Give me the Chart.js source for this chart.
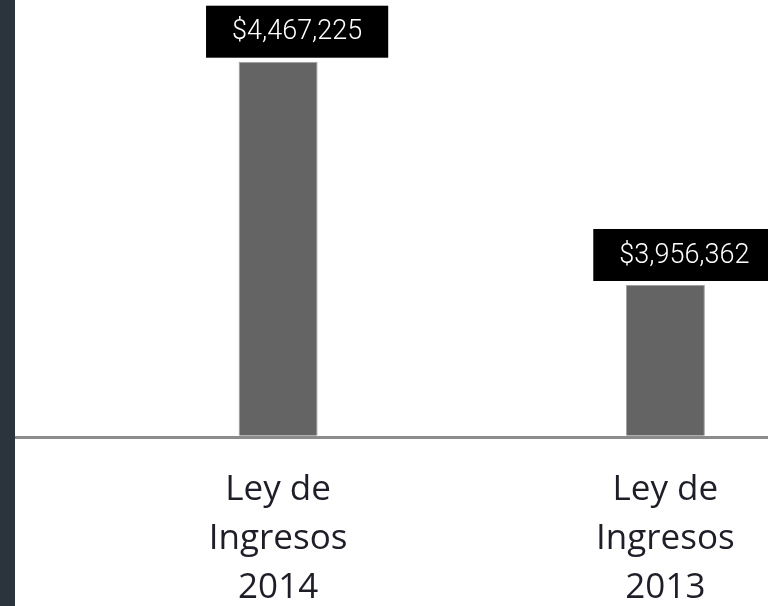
<!DOCTYPE html>
<html>
<head>
<meta charset="utf-8">
<script src="https://cdn.jsdelivr.net/npm/chart.js@4"></script>
<style>
  html, body { margin: 0; padding: 0; background: #fff; overflow: hidden; }
  body { width: 768px; height: 606px; position: relative; }
  #franja { position: absolute; left: 0; top: 0; width: 15px; height: 606px; background: #2b333c; z-index: 2; }
  #caja { position: absolute; left: 15px; top: 0; width: 844px; height: 606px; }
</style>
</head>
<body>
<div id="franja"></div>
<div id="caja"><canvas id="grafica"></canvas></div>
<script>
// Datos de la gráfica
const categorias = [['Ley de', 'Ingresos', '2014'], ['Ley de', 'Ingresos', '2013']];
const montos = [4467225, 3956362];
const etiquetas = ['$4,467,225', '$3,956,362'];

// linea base que cruza todo el ancho
const lineaBase = {
  id: 'lineaBase',
  afterDatasetsDraw(chart) {
    const ctx = chart.ctx;
    const y = chart.scales.y.bottom + 2;
    ctx.save();
    ctx.strokeStyle = '#8c8c8c';
    ctx.lineWidth = 3;
    ctx.beginPath();
    ctx.moveTo(0, y);
    ctx.lineTo(chart.width, y);
    ctx.stroke();
    ctx.restore();
  }
};

// cajas negras con el monto encima de cada barra
const cajasMonto = {
  id: 'cajasMonto',
  afterDatasetsDraw(chart) {
    const ctx = chart.ctx;
    const meta = chart.getDatasetMeta(0);
    ctx.save();
    ctx.font = '300 27px Roboto';
    ctx.textAlign = 'center';
    ctx.textBaseline = 'middle';
    meta.data.forEach(function(barra, i) {
      const texto = etiquetas[i];
      const ancho = ctx.measureText(texto).width + 52;
      const alto = 52;
      const cx = barra.x + 19;
      const abajo = barra.y - 4;
      ctx.fillStyle = '#000';
      ctx.fillRect(cx - ancho / 2, abajo - alto, ancho, alto);
      ctx.fillStyle = '#fff';
      ctx.fillText(texto, cx, abajo - alto / 2 + 1);
    });
    ctx.restore();
  }
};

document.addEventListener('DOMContentLoaded', function() {
  const ctx = document.getElementById('grafica').getContext('2d');
  new Chart(ctx, {
    type: 'bar',
    data: {
      labels: categorias,
      datasets: [{
        data: montos,
        backgroundColor: '#646464',
        borderColor: '#a0a0a0',
        borderWidth: 1,
        categoryPercentage: 1,
        barPercentage: 0.204
      }]
    },
    options: {
      responsive: true,
      maintainAspectRatio: false,
      animation: false,
      layout: { padding: { left: 69.5, right: 0, top: 0, bottom: 0 } },
      plugins: {
        legend: { display: false },
        tooltip: { enabled: false }
      },
      scales: {
        x: {
          grid: { display: false },
          border: { display: false },
          ticks: {
            color: '#1e1e28',
            font: { family: "'Open Sans'", size: 35, lineHeight: 1.4 },
            padding: 22,
            maxRotation: 0
          },
          afterFit: function(s) { s.height = 170.5; }
        },
        y: {
          display: false,
          min: 3612000,
          max: 4608400
        }
      }
    },
    plugins: [lineaBase, cajasMonto]
  });
});
</script>
</body>
</html>
